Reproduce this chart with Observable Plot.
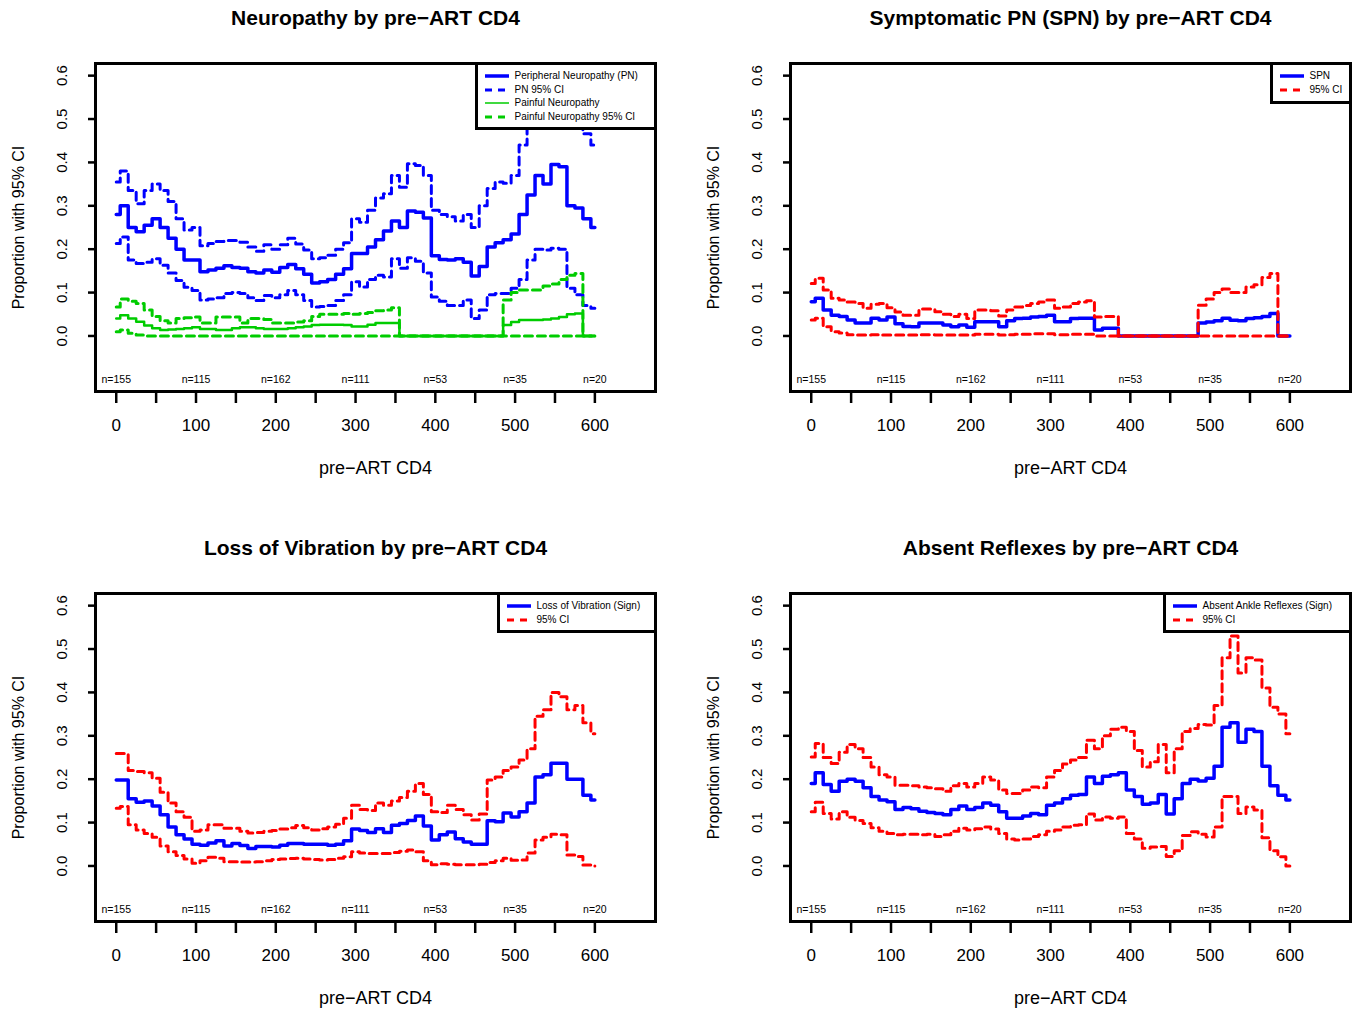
<!DOCTYPE html>
<html><head><meta charset="utf-8">
<script src="https://cdn.jsdelivr.net/npm/d3@7"></script>
<script src="https://cdn.jsdelivr.net/npm/@observablehq/plot@0.6"></script>
<style>
body{margin:0;background:#fff;}
#root{position:relative;width:1360px;height:1013px;background:#fff;overflow:hidden;font-family:"Liberation Sans",Arial,Helvetica,sans-serif;}
.panel{position:absolute;}
.legend{position:absolute;border:3px solid #000;background:#fff;box-sizing:border-box;font-size:10px;color:#000;}
.legend .row{position:absolute;height:12px;line-height:12px;white-space:nowrap;}
.legend svg{position:absolute;top:0;}
.legend span{position:absolute;top:0;}
</style></head><body><div id="root"></div>
<script>
const FONT = '"Liberation Sans", Arial, Helvetica, sans-serif';
const BLUE = "#0000ff", RED = "#ff0000", GREEN = "#00cc00";

const cd4 = [0,10,20,30,40,50,60,70,80,90,100,110,120,130,140,150,160,170,180,190,200,210,220,230,240,250,260,270,280,290,300,310,320,330,340,350,360,370,380,390,400,410,420,430,440,450,460,470,480,490,500,510,520,530,540,550,560,570,580,590,600];

const yTicks = [0, 0.1, 0.2, 0.3, 0.4, 0.5, 0.6];
const xLabelTicks = [0, 100, 200, 300, 400, 500, 600];
const xTickMarks = [0, 50, 100, 150, 200, 250, 300, 350, 400, 450, 500, 550, 600];
const nPositions = [0, 100, 200, 300, 400, 500, 600];
const nLabels = ["n=155", "n=115", "n=162", "n=111", "n=53", "n=35", "n=20"];
const nY = -0.1;

// Panel 1: Neuropathy
const pnEst = [.28,.30,.25,.24,.255,.27,.25,.225,.20,.175, .175,.148,.152,.156,.162,.158,.156,.148,.145,.152, .147,.158,.165,.155,.142,.122,.125,.13,.142,.155, .19,.19,.205,.222,.242,.265,.25,.288,.285,.272, .185,.176,.175,.178,.17,.138,.16,.205,.215,.222, .235,.28,.325,.37,.35,.395,.39,.30,.295,.27, .25];
const pnUpper = [.355,.38,.335,.305,.335,.35,.335,.31,.27,.244, .25,.208,.213,.218,.22,.22,.216,.205,.195,.21, .2,.21,.225,.212,.198,.178,.18,.186,.2,.215, .27,.262,.29,.318,.328,.37,.343,.397,.393,.37, .29,.28,.275,.265,.28,.25,.3,.34,.355,.352, .37,.44,.51,.545,.55,.58,.52,.495,.48,.466, .44];
const pnLower = [.213,.228,.175,.167,.17,.178,.163,.145,.128,.112, .105,.083,.085,.088,.098,.1,.098,.088,.082,.093, .088,.095,.105,.095,.082,.067,.068,.07,.082,.095, .125,.113,.13,.14,.136,.178,.156,.18,.172,.145, .09,.08,.07,.07,.083,.04,.06,.095,.098,.098, .11,.13,.175,.2,.198,.202,.2,.11,.095,.07, .064];
const painEst = [.04,.048,.04,.033,.024,.018,.014,.015,.016,.018, .02,.016,.016,.014,.014,.018,.02,.02,.018,.016, .016,.016,.018,.02,.022,.025,.026,.026,.026,.025, .022,.022,.026,.03,.03,.03,0,0,0,0, 0,0,0,0,0,0,0,0,0,.025, .032,.037,.037,.037,.038,.04,.044,.05,.052,0, 0];
const painUpper = [.067,.085,.08,.075,.06,.045,.035,.03,.04,.042, .044,.03,.03,.044,.044,.044,.03,.04,.04,.038, .03,.03,.03,.032,.035,.045,.05,.05,.05,.052, .05,.052,.054,.058,.06,.065,0,0,0,0, 0,0,0,0,0,0,0,0,0,.083, .1,.106,.106,.106,.115,.12,.13,.14,.144,0, 0];
const painLower = [.01,.014,.006,.002,0,0,0,0,0,0, 0,0,0,0,0,0,0,0,0,0, 0,0,0,0,0,0,0,0,0,0, 0,0,0,0,0,0,0,0,0,0, 0,0,0,0,0,0,0,0,0,0, 0,0,0,0,0,0,0,0,0,0, 0];

// Panel 2: Symptomatic PN
const spnEst = [.079,.087,.06,.048,.045,.037,.03,.03,.041,.037, .044,.028,.022,.021,.03,.03,.03,.025,.021,.025, .02,.033,.033,.033,.021,.035,.04,.041,.044,.045, .048,.033,.033,.04,.041,.041,.014,.018,.018,0, 0,0,0,0,0,0,0,0,0,.03, .032,.035,.041,.036,.035,.04,.042,.045,.052,0, 0];
const spnUpper = [.121,.133,.106,.087,.083,.078,.075,.064,.073,.075, .065,.055,.048,.048,.062,.062,.056,.05,.045,.05, .04,.06,.06,.058,.046,.06,.067,.07,.075,.078, .083,.064,.067,.075,.078,.081,.044,.045,.045,0, 0,0,0,0,0,0,0,0,0,.071, .085,.1,.108,.1,.1,.113,.118,.135,.144,0, 0];
const spnLower = [.037,.041,.021,.01,.007,.003,.002,.002,.003,.002, .002,.002,.002,.002,.003,.003,.002,.002,.002,.002, .002,.004,.004,.004,.002,.003,.004,.004,.005,.005, .005,.003,.003,.004,.004,.004,0,0,0,0, 0,0,0,0,0,0,0,0,0,0, 0,0,0,0,0,0,0,0,0,0, 0];

// Panel 3: Loss of Vibration
const lovEst = [.198,.198,.155,.147,.15,.138,.118,.09,.072,.062, .05,.048,.053,.058,.046,.052,.047,.04,.045,.045, .044,.048,.052,.052,.05,.05,.05,.048,.05,.058, .085,.082,.077,.086,.077,.094,.098,.105,.115,.092, .06,.072,.078,.063,.055,.05,.05,.104,.102,.122, .113,.125,.145,.205,.21,.237,.237,.2,.2,.163, .152];
const lovUpper = [.259,.259,.22,.218,.215,.202,.17,.145,.125,.112, .08,.083,.095,.095,.087,.087,.08,.076,.077,.08, .082,.085,.088,.093,.088,.083,.086,.09,.096,.11, .14,.13,.128,.145,.14,.15,.158,.172,.19,.165, .125,.123,.14,.13,.118,.106,.12,.198,.205,.22, .228,.244,.27,.345,.36,.4,.39,.36,.37,.33, .305];
const lovLower = [.133,.137,.095,.083,.075,.066,.046,.033,.024,.016, .006,.012,.02,.018,.01,.01,.009,.009,.01,.012, .015,.016,.017,.018,.016,.015,.014,.015,.018,.021, .033,.03,.029,.029,.029,.031,.034,.037,.033,.012, .003,.005,.004,.003,.003,.003,.004,.008,.012,.018, .013,.014,.03,.06,.066,.073,.072,.025,.022,.002, 0];

// Panel 4: Absent Reflexes
const arEst = [.19,.215,.188,.172,.195,.2,.195,.18,.16,.152, .148,.13,.135,.132,.126,.123,.121,.118,.13,.138, .13,.135,.145,.14,.125,.11,.11,.115,.121,.118, .14,.145,.155,.163,.165,.205,.19,.207,.21,.215, .175,.16,.142,.145,.165,.12,.155,.19,.2,.196, .202,.23,.32,.33,.285,.315,.31,.23,.185,.163, .152];
const arUpper = [.251,.282,.25,.236,.262,.28,.27,.25,.228,.21, .205,.186,.186,.185,.182,.18,.178,.172,.185,.19, .182,.19,.205,.198,.175,.167,.167,.175,.182,.18, .205,.22,.235,.244,.25,.29,.27,.3,.315,.32, .31,.266,.228,.24,.28,.215,.27,.31,.317,.326, .325,.37,.48,.53,.445,.48,.475,.41,.366,.35, .305];
const arLower = [.125,.147,.121,.108,.125,.112,.105,.098,.088,.08, .075,.072,.073,.073,.072,.073,.068,.072,.08,.087, .083,.086,.09,.085,.075,.062,.06,.062,.068,.072, .08,.083,.09,.094,.095,.12,.106,.113,.11,.113, .075,.062,.041,.044,.045,.022,.035,.07,.079,.073, .067,.09,.16,.16,.121,.136,.129,.065,.035,.021, 0];

const DASH = "8,5";
const panels = [
  {left: 0, top: 0, title: "Neuropathy by pre\u2212ART CD4",
   series: [
     {values: pnUpper, color: BLUE, width: 3, dash: DASH},
     {values: pnLower, color: BLUE, width: 3, dash: DASH},
     {values: pnEst, color: BLUE, width: 3.5},
     {values: painUpper, color: GREEN, width: 3, dash: DASH},
     {values: painLower, color: GREEN, width: 3, dash: DASH},
     {values: painEst, color: GREEN, width: 2.5}
   ],
   legend: {w: 182, h: 68, items: [
     {label: "Peripheral Neuropathy (PN)", color: BLUE, width: 3.5},
     {label: "PN 95% CI", color: BLUE, width: 3, dash: "7,6"},
     {label: "Painful Neuropathy", color: GREEN, width: 1.5},
     {label: "Painful Neuropathy 95% CI", color: GREEN, width: 3, dash: "7,6"}
   ]}},
  {left: 695, top: 0, title: "Symptomatic PN (SPN) by pre\u2212ART CD4",
   series: [
     {values: spnEst, color: BLUE, width: 3.5},
     {values: spnUpper, color: RED, width: 3, dash: DASH},
     {values: spnLower, color: RED, width: 3, dash: DASH}
   ],
   legend: {w: 82, h: 42, items: [
     {label: "SPN", color: BLUE, width: 3.5},
     {label: "95% CI", color: RED, width: 3, dash: "7,6"}
   ]}},
  {left: 0, top: 530, title: "Loss of Vibration by pre\u2212ART CD4",
   series: [
     {values: lovEst, color: BLUE, width: 3.5},
     {values: lovUpper, color: RED, width: 3, dash: DASH},
     {values: lovLower, color: RED, width: 3, dash: DASH}
   ],
   legend: {w: 160, h: 41, items: [
     {label: "Loss of Vibration (Sign)", color: BLUE, width: 3.5},
     {label: "95% CI", color: RED, width: 3, dash: "7,6"}
   ]}},
  {left: 695, top: 530, title: "Absent Reflexes by pre\u2212ART CD4",
   series: [
     {values: arEst, color: BLUE, width: 3.5},
     {values: arUpper, color: RED, width: 3, dash: DASH},
     {values: arLower, color: RED, width: 3, dash: DASH}
   ],
   legend: {w: 189, h: 41, items: [
     {label: "Absent Ankle Reflexes (Sign)", color: BLUE, width: 3.5},
     {label: "95% CI", color: RED, width: 3, dash: "7,6"}
   ]}}
];

const root = document.getElementById("root");
const ML = 95, MR = 10, MT = 63, MB = 95, W = 665, H = 486;
const mid = {textAnchor: "middle", lineAnchor: "middle", fill: "#000"};

panels.forEach(p => {
  const marks = [];
  p.series.forEach(s => {
    const rows = cd4.map((x, i) => ({x, y: s.values[i]}));
    const opts = {x: "x", y: "y", curve: "step", stroke: s.color, strokeWidth: s.width};
    if (s.dash) opts.strokeDasharray = s.dash;
    marks.push(Plot.line(rows, opts));
  });
  marks.push(Plot.frame({stroke: "#000", strokeWidth: 3}));
  marks.push(Plot.axisY({ticks: yTicks, tickSize: 7, strokeWidth: 2.5, fill: "none", label: null}));
  marks.push(Plot.axisX({ticks: xTickMarks, tickSize: 12, strokeWidth: 2.5, fill: "none", label: null}));
  marks.push(Plot.text(yTicks, {...mid, y: d => d, text: d => d.toFixed(1), frameAnchor: "left", dx: -33, rotate: -90, fontSize: 15}));
  marks.push(Plot.text(xLabelTicks, {...mid, x: d => d, text: d => String(d), frameAnchor: "bottom", dy: 34, fontSize: 17}));
  marks.push(Plot.text(nPositions.map((x, i) => ({x, y: nY, label: nLabels[i]})), {...mid, x: "x", y: "y", text: "label", fontSize: 10.5}));
  marks.push(Plot.text(["Proportion with 95% CI"], {...mid, text: d => d, frameAnchor: "left", dx: -77, rotate: -90, fontSize: 16}));
  marks.push(Plot.text(["pre\u2212ART CD4"], {...mid, text: d => d, frameAnchor: "bottom", dy: 77, fontSize: 18}));
  marks.push(Plot.text([p.title], {...mid, text: d => d, frameAnchor: "top", dy: -45, fontSize: 21, fontWeight: "bold"}));

  const chart = Plot.plot({
    width: W, height: H,
    marginLeft: ML, marginRight: MR, marginTop: MT, marginBottom: MB,
    x: {domain: [-26, 676], axis: null},
    y: {domain: [-0.128, 0.628], axis: null},
    style: {fontFamily: FONT, color: "#000", background: "transparent", overflow: "visible"},
    marks
  });
  const wrap = document.createElement("div");
  wrap.className = "panel";
  wrap.style.left = p.left + "px";
  wrap.style.top = p.top + "px";
  wrap.appendChild(chart);
  root.appendChild(wrap);

  // legend (top-right of the frame)
  const lg = p.legend;
  const box = document.createElement("div");
  box.className = "legend";
  box.style.width = lg.w + "px";
  box.style.height = lg.h + "px";
  box.style.left = (p.left + W - MR + 1.5 - lg.w) + "px";
  box.style.top = (p.top + MT - 1.5) + "px";
  lg.items.forEach((it, i) => {
    const row = document.createElement("div");
    row.className = "row";
    row.style.left = "0px";
    row.style.top = (5.5 + i * 13.5) + "px";
    const dash = it.dash ? ` stroke-dasharray="${it.dash}"` : "";
    row.innerHTML = `<svg width="26" height="12" style="left:6px"><line x1="1" x2="25" y1="6" y2="6" stroke="${it.color}" stroke-width="${it.width}"${dash}/></svg><span style="left:37px">${it.label}</span>`;
    box.appendChild(row);
  });
  root.appendChild(box);
});
</script></body></html>
